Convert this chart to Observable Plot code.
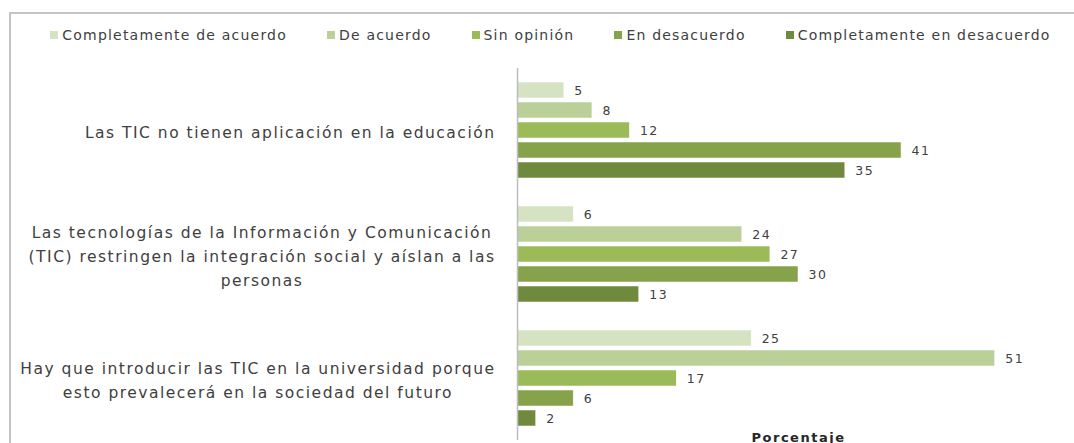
<!DOCTYPE html>
<html>
<head>
<meta charset="utf-8">
<script src="https://cdn.jsdelivr.net/npm/d3@7"></script>
<script src="https://cdn.jsdelivr.net/npm/@observablehq/plot@0.6"></script>
<style>
  html, body { margin: 0; padding: 0; background: #fff; overflow: hidden; }
  #chart { margin-left: 9px; margin-top: 12px; border-top: 2px solid #c4c4c4; border-left: 2px solid #c4c4c4; width: 1063px; }
  #legend { height: 41px; display: flex; justify-content: center; align-items: center; gap: 40px; font-family: "DejaVu Sans", sans-serif; font-size: 14px; letter-spacing: 1.2px; color: #404040; padding-left: 16px; box-sizing: border-box; }
  #legend .item { display: flex; align-items: center; gap: 4px; }
  #legend .sw { width: 8px; height: 8px; display: inline-block; }
  svg { display: block; }
  svg text { letter-spacing: 1.5px; }
</style>
</head>
<body>
<div id="chart"><div id="legend"></div></div>
<script>
// Data
const questions = [
  "Las TIC no tienen aplicación en la educación",
  "Las tecnologías de la Información y Comunicación\n(TIC) restringen la integración social y aíslan a las\npersonas",
  "Hay que introducir las TIC en la universidad porque\nesto prevalecerá en la sociedad del futuro"
];
const series = [
  "Completamente de acuerdo",
  "De acuerdo",
  "Sin opinión",
  "En desacuerdo",
  "Completamente en desacuerdo"
];
const colors = ["#d5e3c3", "#bbd098", "#9bbb59", "#86a34b", "#6f8a3d"];
const q1Values = [5, 8, 12, 41, 35];
const q2Values = [6, 24, 27, 30, 13];
const q3Values = [25, 51, 17, 6, 2];
const xAxisLabel = "Porcentaje";

const valuesByQuestion = [q1Values, q2Values, q3Values];
const rows = [];
questions.forEach((q, i) => series.forEach((s, j) => rows.push({question: q, serie: s, value: valuesByQuestion[i][j]})));

// Legend
const legend = document.getElementById("legend");
series.forEach((s, j) => {
  const it = document.createElement("span");
  it.className = "item";
  const sw = document.createElement("span");
  sw.className = "sw";
  sw.style.background = colors[j];
  const tx = document.createElement("span");
  tx.textContent = s;
  it.appendChild(sw); it.appendChild(tx);
  legend.appendChild(it);
});

// Label measurement
const labelSize = 15.5;
const letterSp = 1.5;
const ctx = document.createElement("canvas").getContext("2d");
ctx.font = labelSize + "px 'DejaVu Sans'";
const lineW = (l) => ctx.measureText(l).width + letterSp * l.length;
const blockWidth = (t) => Math.max(...t.split("\n").map(lineW));
const labelGap = 22;

const fontFamily = "DejaVu Sans, sans-serif";

const labelMarks = questions.map(q => Plot.text([q], {
  fy: d => d,
  text: d => d,
  frameAnchor: "left",
  textAnchor: "middle",
  dx: -(labelGap + blockWidth(q) / 2),
  fontSize: labelSize,
  lineHeight: 1.52,
  fill: "#404040"
}));

const plot = Plot.plot({
  width: 1063,
  height: 388,
  marginLeft: 506,
  marginRight: -5,
  marginTop: 13,
  marginBottom: 3,
  style: {fontFamily: fontFamily, background: "white"},
  fy: {domain: questions, padding: 0, axis: null, label: null},
  y: {domain: series, paddingInner: 0.22, paddingOuter: 0.61, axis: null, label: null},
  x: {domain: [0, 60], axis: null},
  color: {domain: series, range: colors},
  marks: [
    Plot.barX(rows, {fy: "question", y: "serie", x: "value", fill: "serie", stroke: "white", strokeWidth: 0.5}),
    Plot.text(rows, {fy: "question", y: "serie", x: "value", text: d => String(d.value), textAnchor: "start", dx: 10, fontSize: 12.5, fill: "#404040"}),
    Plot.ruleX([0], {stroke: "#bdbdbd", strokeWidth: 1.5}),
    ...labelMarks,
    Plot.text([questions[2]], {fy: d => d, text: () => xAxisLabel, frameAnchor: "bottom", lineAnchor: "top", dy: -8, fontSize: 13, fontWeight: "bold", fill: "#262626"})
  ]
});
document.getElementById("chart").appendChild(plot);
</script>
</body>
</html>
